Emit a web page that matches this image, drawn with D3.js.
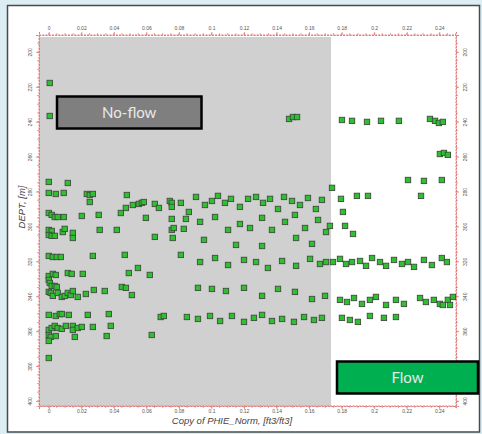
<!DOCTYPE html>
<html>
<head>
<meta charset="utf-8">
<script src="https://cdn.jsdelivr.net/npm/d3@7/dist/d3.min.js"></script>
<style>
  html, body { margin: 0; padding: 0; background: #dbeef4; }
  svg { display: block; }
</style>
</head>
<body>
<svg id="chart" width="482" height="434"></svg>
<script>
// Porosity (PHIE_Norm, ft3/ft3) vs depth (m) samples, grouped by depth zone: [phie, dept]
const upperSamples = [
  [0.0006, 217.8], [0.0006, 236.7],
  [0.1477, 238.4], [0.1501, 237.3], [0.1526, 237.3],
  [0.1802, 239.0], [0.1864, 239.5], [0.1956, 240.1], [0.2042, 239.5], [0.2152, 239.5],
  [0.2343, 238.4], [0.2374, 239.5], [0.2398, 240.7], [0.2422, 240.1],
  [0.2404, 258.5], [0.2429, 257.9], [0.2453, 259.0],
  [0.2208, 273.4], [0.2306, 273.9], [0.2416, 273.4]
];

const band285 = [
  [0.000, 274.5], [0.0117, 275.1],
  [0.000, 280.8], [0.0043, 281.4], [0.0092, 280.8], [0.0234, 281.4], [0.0252, 282.0], [0.0271, 281.4],
  [0.048, 282.0], [0.0252, 286.0],
  [0.0443, 292.3], [0.0474, 289.4], [0.0517, 287.7], [0.0554, 287.1], [0.0572, 286.5], [0.0584, 286.0],
  [0.0652, 287.1], [0.0677, 289.4], [0.0744, 285.4], [0.0756, 286.5], [0.0756, 288.8], [0.0812, 286.5],
  [0.0861, 291.7],
  [0.0905, 283.1], [0.096, 287.7], [0.1003, 285.4], [0.104, 282.5], [0.1083, 286.5], [0.112, 284.2],
  [0.1175, 288.8], [0.1225, 284.2], [0.1274, 283.1], [0.1317, 286.5], [0.136, 284.2], [0.1409, 290.0],
  [0.1446, 283.1], [0.1495, 285.4], [0.1544, 287.7], [0.1593, 283.7], [0.1642, 290.0], [0.1679, 284.8],
  [0.1741, 277.9], [0.1796, 284.2], [0.1808, 291.7], [0.1894, 282.5], [0.1962, 282.5], [0.2288, 282.5]
];

const band300 = [
  [0, 292.3], [0.0018, 293.4], [0.0037, 294.6], [0.0055, 294.6], [0.0092, 294.6], [0.0203, 294.0],
  [0.0307, 293.4], [0.0597, 295.1], [0.0756, 295.7], [0.0843, 295.7],
  [0, 302.0], [0.0018, 302.6], [0, 304.9], [0.0018, 305.4], [0.0037, 305.4], [0.0086, 303.2],
  [0.0098, 301.4], [0.0148, 303.7], [0.0148, 306.6], [0.0313, 302.0], [0.0418, 302.0], [0.0652, 306.0],
  [0.0756, 302.0], [0.0768, 300.9], [0.0762, 306.6], [0.083, 301.4],
  [0.093, 297.4], [0.1022, 294.6], [0.1102, 302.0], [0.1175, 298.6], [0.1237, 300.9], [0.1311, 295.1],
  [0.1372, 302.0], [0.1452, 297.4], [0.1513, 293.4], [0.1575, 300.9], [0.1655, 296.3], [0.1704, 303.2],
  [0.0954, 307.7], [0.1151, 310.6], [0.1311, 311.2], [0.152, 306.6], [0.1618, 310.0], [0.1728, 299.7],
  [0.1821, 299.7], [0.187, 304.3]
];

const band320 = [
  [0, 316.9], [0.0025, 317.5], [0.0049, 317.5], [0.0074, 317.5], [0.0271, 316.9], [0.0467, 316.3],
  [0.0812, 316.3],
  [0.093, 320.4], [0.1022, 318.1], [0.1102, 322.1], [0.12, 319.2], [0.1274, 320.4], [0.1347, 323.8],
  [0.1434, 319.8], [0.152, 322.6], [0.1606, 318.6], [0.1667, 321.5], [0.1704, 320.4],
  [0.1747, 320.4], [0.179, 318.6], [0.1827, 321.5], [0.1864, 320.4], [0.1913, 319.8], [0.195, 322.6],
  [0.1987, 318.1], [0.2036, 320.4], [0.2073, 322.6], [0.2122, 319.2], [0.2171, 321.5], [0.2208, 320.4],
  [0.2245, 323.2], [0.2306, 319.2], [0.2355, 322.1], [0.2416, 318.1], [0.2447, 320.4],
  [0.0548, 323.8], [0.0492, 326.7], [0.0621, 327.8],
  [0, 328.4], [0.0025, 327.2], [0.0043, 327.8], [0.0117, 326.7], [0.0141, 327.2], [0.0209, 327.2],
  [0, 330.7], [0.0006, 332.4], [0.0018, 334.1], [0.0037, 334.1], [0.0049, 334.7]
];

const band340 = [
  [0, 337.5], [0.0012, 338.1], [0.0025, 339.8], [0.0055, 338.1], [0.008, 340.4], [0.0098, 339.8],
  [0.0117, 338.1], [0.0135, 339.3], [0.0148, 337.0], [0.0178, 340.4], [0.0228, 338.7], [0.0277, 336.4],
  [0.0344, 337.0], [0.0449, 334.7], [0.0474, 335.2], [0.0511, 339.3],
  [0.0917, 335.2], [0.1003, 335.8], [0.1089, 337.0], [0.12, 335.2], [0.1311, 339.8], [0.1409, 335.8],
  [0.1513, 337.5], [0.1618, 341.6], [0.1698, 339.8],
  [0.179, 342.1], [0.1833, 343.3], [0.1876, 341.0], [0.1925, 344.4], [0.1974, 342.1], [0.2011, 340.4],
  [0.2073, 345.0], [0.2134, 342.1], [0.2183, 344.4], [0.2282, 341.0], [0.2318, 343.3], [0.2367, 342.1],
  [0.2404, 344.4], [0.2453, 342.1], [0.2484, 340.4], [0.2466, 345.0], [0.2422, 345.0]
];

const band355 = [
  [0, 350.7], [0.0043, 351.3], [0.0068, 350.2], [0.008, 350.2], [0.0123, 350.7], [0.024, 350.7],
  [0.0369, 350.2], [0.0688, 351.9], [0.0707, 351.3], [0.0849, 351.9],
  [0.0917, 353.0], [0.0991, 351.3], [0.1053, 354.2], [0.1126, 351.3], [0.12, 354.7], [0.1261, 352.4],
  [0.1311, 350.7], [0.1372, 354.2], [0.1434, 353.0], [0.1507, 354.7], [0.1569, 351.9], [0.163, 353.6],
  [0.1679, 352.4], [0.1802, 352.4], [0.1851, 353.6], [0.19, 354.7], [0.1974, 351.3], [0.206, 352.4],
  [0.2134, 351.9],
  [0, 359.3], [0.0018, 358.2], [0.0037, 357.0], [0.0055, 358.2], [0.008, 358.7], [0.0105, 357.0],
  [0.0148, 357.0], [0.0148, 359.3], [0.0178, 358.2], [0.0203, 357.6], [0.0271, 357.6], [0.0381, 357.0],
  [0, 362.2], [0.0012, 363.3], [0.0043, 362.8], [0.016, 363.3], [0.0356, 362.8], [0.0633, 362.2],
  [0, 365.6], [0, 375.4]
];

const samples = [].concat(upperSamples, band285, band300, band320, band340, band355);

// Axis ticks and the flow / no-flow porosity cut-off
const phieTicks = [0, 0.02, 0.04, 0.06, 0.08, 0.1, 0.12, 0.14, 0.16, 0.18, 0.2, 0.22, 0.24];
const phieTickLabels = ["0", "0.02", "0.04", "0.06", "0.08", "0.1", "0.12", "0.14", "0.16", "0.18", "0.2", "0.22", "0.24"];
const deptTicks = [200, 220, 240, 260, 280, 300, 320, 340, 360, 380, 400];
const phieCutoff = 0.1735;
const phieDomain = [-0.006, 0.2503];
const deptDomain = [190.3, 402.9];

const svg = d3.select("#chart");
const W = 482, H = 434;
const plot = { left: 39, right: 456, top: 35, bottom: 406 };

const x = d3.scaleLinear().domain(phieDomain).range([plot.left, plot.right]);
const y = d3.scaleLinear().domain(deptDomain).range([plot.top, plot.bottom]);

// page panel
svg.append("rect").attr("x", 0).attr("y", 0).attr("width", W).attr("height", H).attr("fill", "#dbeef4");
svg.append("rect").attr("x", 7.5).attr("y", 5.5).attr("width", 472).attr("height", 426.5)
  .attr("fill", "#ffffff").attr("stroke", "#4a4a4a").attr("stroke-width", 1.5);

// no-flow zone shading
svg.append("rect")
  .attr("x", x(phieDomain[0])).attr("y", y(deptDomain[0]) + 2)
  .attr("width", x(phieCutoff) - x(phieDomain[0]))
  .attr("height", y(deptDomain[1]) - y(deptDomain[0]) - 2)
  .attr("fill", "#d0d0d0");

// frame axes: dotted red lines with outward ticks
const axisColor = "#e27a7a";
const minorX = d3.range(0, 0.2501, 0.005);
const minorY = d3.range(195, 403, 5);
const labelFont = "Liberation Sans, Arial, sans-serif";

function styleAxis(g) {
  g.select(".domain").attr("stroke", axisColor).attr("stroke-dasharray", "2,1.2").attr("stroke-width", 1);
  g.selectAll(".tick line").attr("stroke", axisColor).attr("stroke-width", 0.8);
  g.selectAll(".tick text").attr("fill", "#555").attr("font-size", 5).attr("font-family", labelFont);
}

const fmt = (d) => phieTickLabels[phieTicks.indexOf(d)];

// minor ticks
[["top", plot.top], ["bottom", plot.bottom]].forEach(([side, py]) => {
  svg.append("g").selectAll("line").data(minorX).join("line")
    .attr("x1", d => x(d)).attr("x2", d => x(d))
    .attr("y1", py).attr("y2", side === "top" ? py - 2 : py + 2)
    .attr("stroke", axisColor).attr("stroke-width", 0.7);
});
[["left", plot.left], ["right", plot.right]].forEach(([side, px]) => {
  svg.append("g").selectAll("line").data(minorY).join("line")
    .attr("y1", d => y(d)).attr("y2", d => y(d))
    .attr("x1", px).attr("x2", side === "left" ? px - 2 : px + 2)
    .attr("stroke", axisColor).attr("stroke-width", 0.7);
});

const gTop = svg.append("g").attr("transform", `translate(0,${plot.top})`)
  .call(d3.axisTop(x).tickValues(phieTicks).tickFormat(fmt).tickSizeOuter(0).tickSize(3).tickPadding(2));
styleAxis(gTop);
const gBottom = svg.append("g").attr("transform", `translate(0,${plot.bottom})`)
  .call(d3.axisBottom(x).tickValues(phieTicks).tickFormat(fmt).tickSizeOuter(0).tickSize(3).tickPadding(0));
styleAxis(gBottom);

const gLeft = svg.append("g").attr("transform", `translate(${plot.left},0)`)
  .call(d3.axisLeft(y).tickValues(deptTicks).tickFormat(d3.format("d")).tickSizeOuter(0).tickSize(3));
styleAxis(gLeft);
gLeft.selectAll(".tick text")
  .attr("transform", "rotate(-90)").attr("x", 0).attr("y", -7)
  .attr("text-anchor", "middle").attr("dy", 0);

const gRight = svg.append("g").attr("transform", `translate(${plot.right},0)`)
  .call(d3.axisRight(y).tickValues(deptTicks).tickFormat(d3.format("d")).tickSizeOuter(0).tickSize(3));
styleAxis(gRight);
gRight.selectAll(".tick text")
  .attr("transform", "rotate(-90)").attr("x", 0).attr("y", 7)
  .attr("text-anchor", "middle").attr("dy", "0.7em");

// closed frame
svg.append("path")
  .attr("d", `M${plot.left},${plot.top}H${plot.right}V${plot.bottom}H${plot.left}Z`)
  .attr("fill", "none").attr("stroke", axisColor).attr("stroke-dasharray", "2,1.2").attr("stroke-width", 1);

// axis titles
svg.append("text")
  .attr("transform", `translate(25,207) rotate(-90)`)
  .attr("text-anchor", "middle")
  .attr("font-family", labelFont).attr("font-size", 9.5)
  .attr("font-style", "italic").attr("fill", "#444")
  .text("DEPT, [m]");
svg.append("text")
  .attr("x", 232).attr("y", 424)
  .attr("text-anchor", "middle")
  .attr("font-family", labelFont).attr("font-size", 9.5)
  .attr("font-style", "italic").attr("fill", "#444")
  .text("Copy of PHIE_Norm, [ft3/ft3]");

// sample markers
const size = 5.4;
svg.append("g").selectAll("rect").data(samples).join("rect")
  .attr("x", d => x(d[0]) - size / 2)
  .attr("y", d => y(d[1]) - size / 2)
  .attr("width", size).attr("height", size)
  .attr("fill", "#2ec02e").attr("stroke", "#3d4d3d").attr("stroke-width", 0.9);

// zone labels
function zoneLabel(bx, by, bw, bh, fill, label) {
  svg.append("rect").attr("x", bx).attr("y", by).attr("width", bw).attr("height", bh)
    .attr("fill", fill).attr("stroke", "#000").attr("stroke-width", 2.5);
  svg.append("text").attr("x", bx + bw / 2).attr("y", by + bh / 2).attr("dy", "0.35em")
    .attr("text-anchor", "middle").attr("font-family", "Lato, 'Open Sans', sans-serif")
    .attr("font-size", 15).attr("fill", "#eaeaea").text(label);
}
zoneLabel(57, 96.5, 144.5, 32, "#7f7f7f", "No-flow");
zoneLabel(337, 361.5, 141, 32, "#00b050", "Flow");
</script>
</body>
</html>
